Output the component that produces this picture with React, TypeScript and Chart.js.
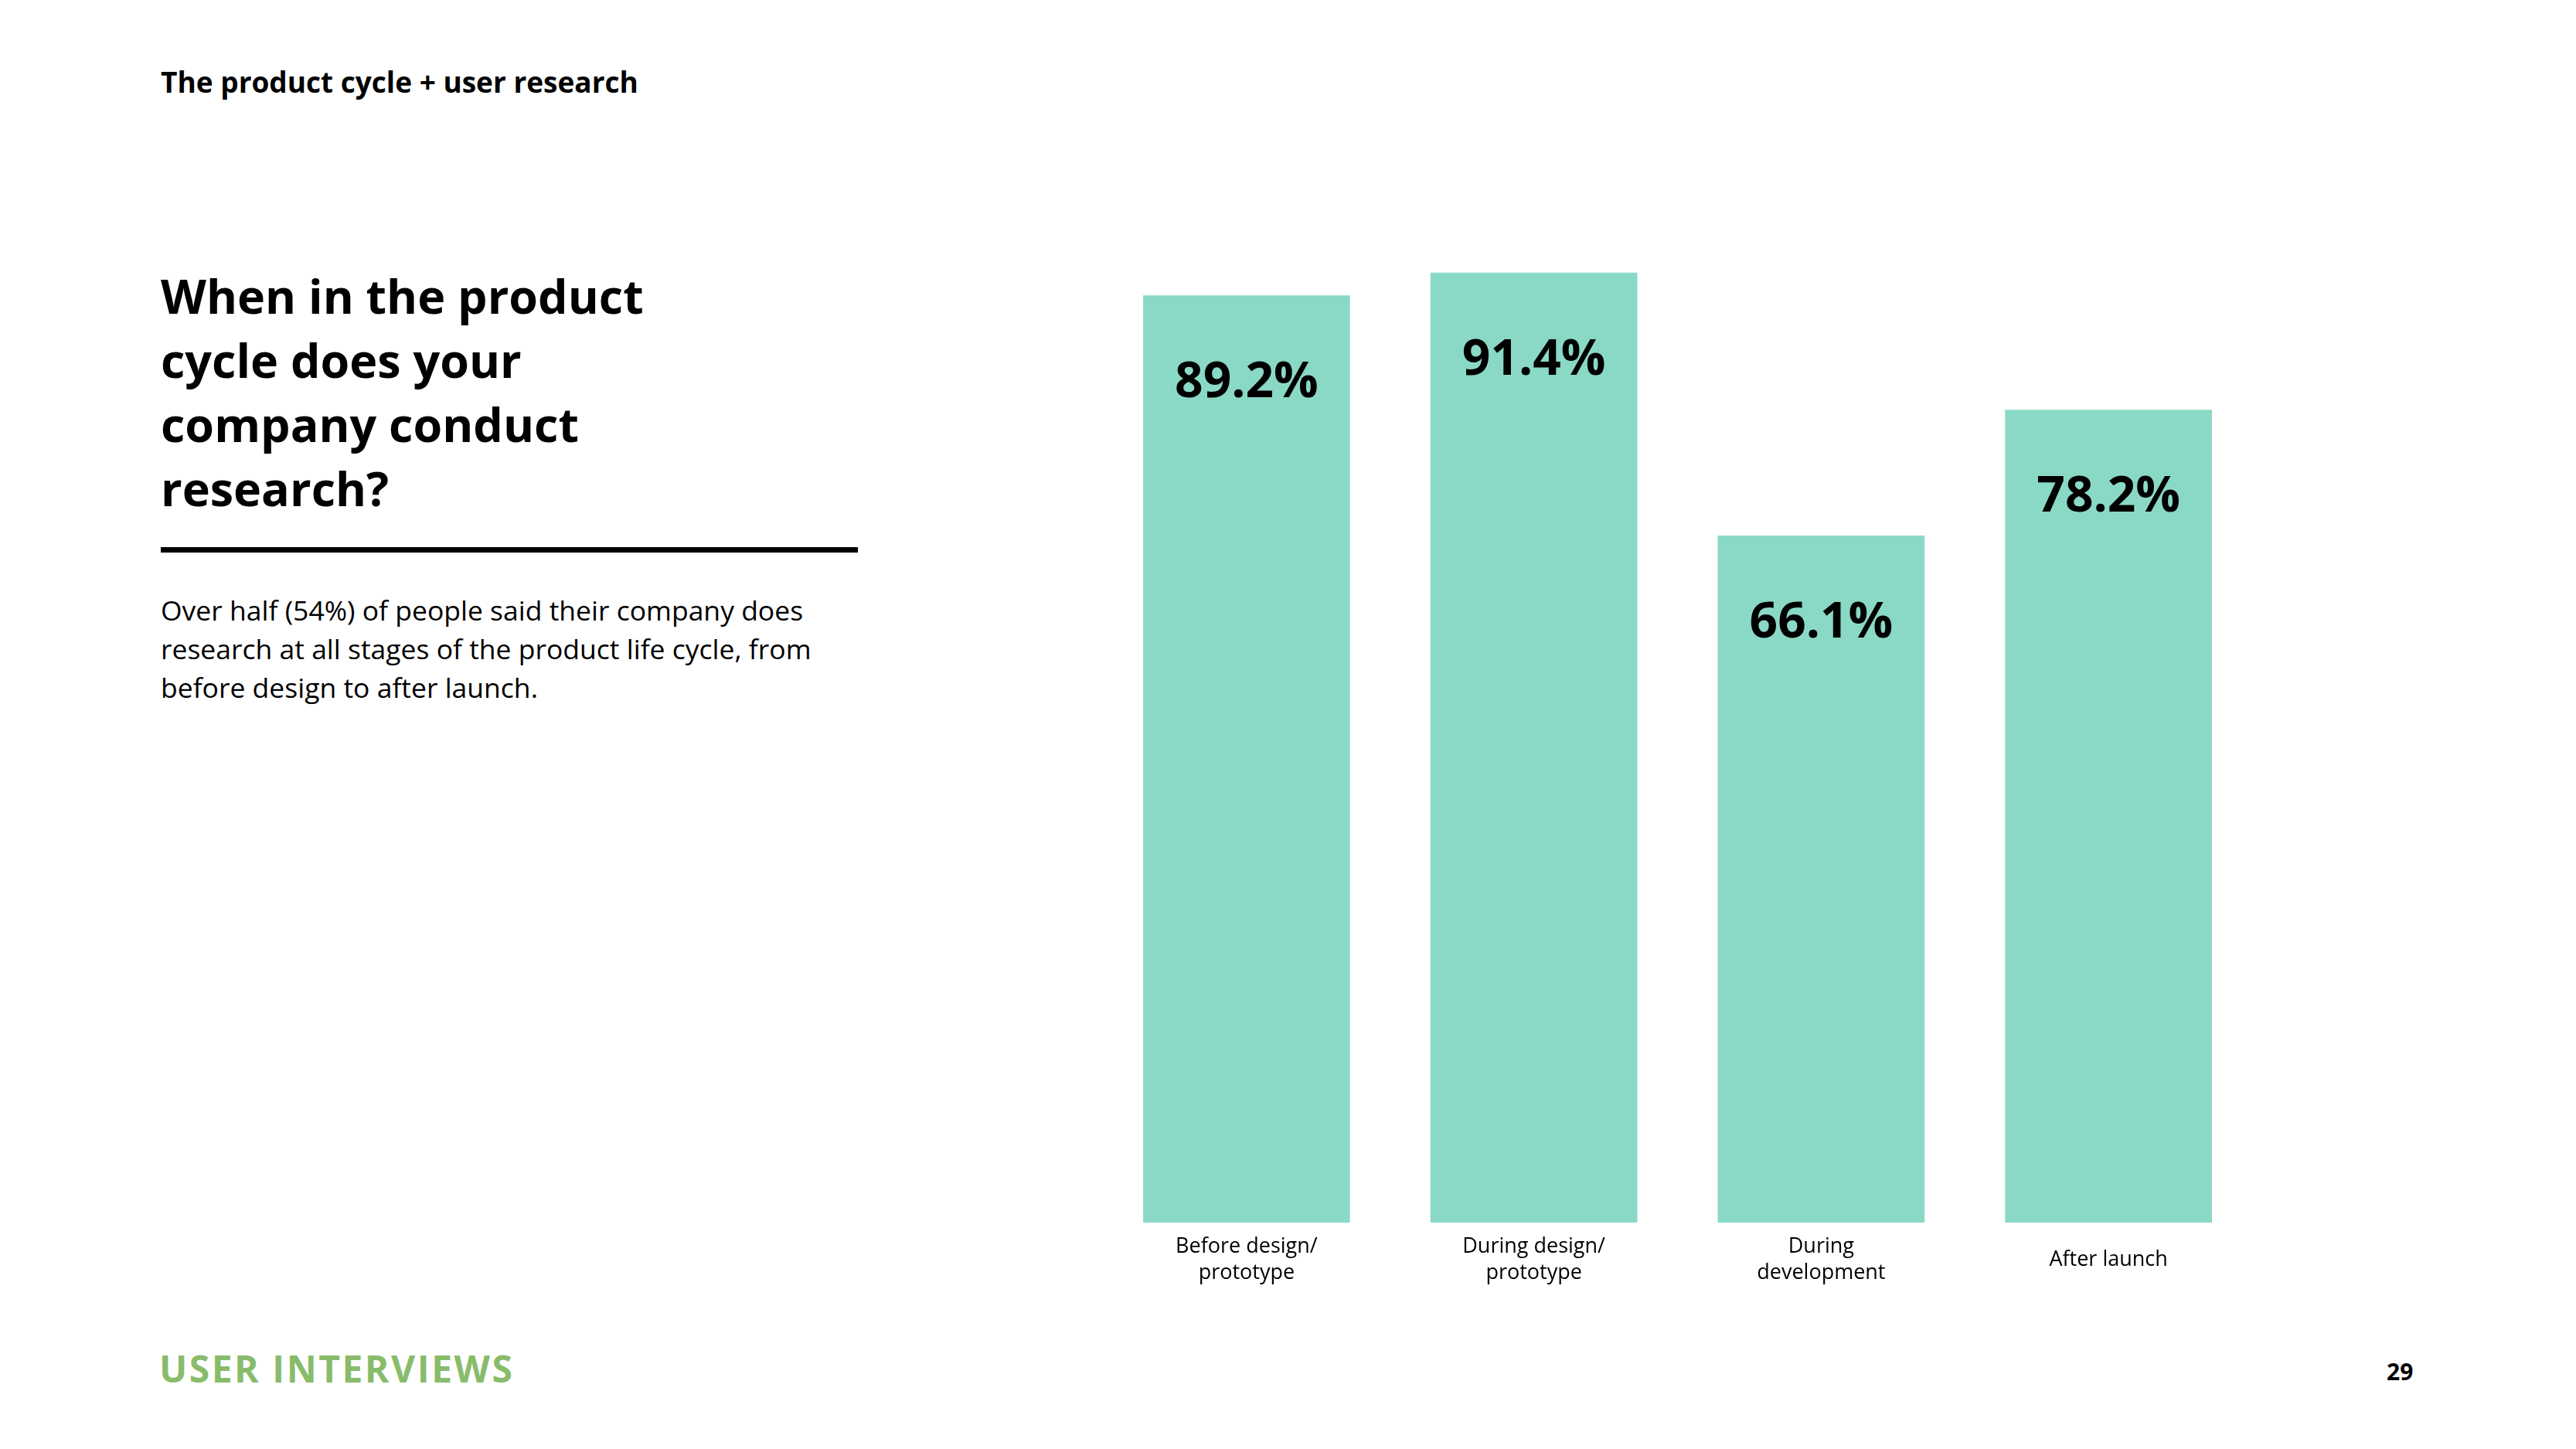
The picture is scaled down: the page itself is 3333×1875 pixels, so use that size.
import React, { useEffect, useRef } from "react";
import { Chart, registerables } from "chart.js";

Chart.register(...registerables);

const categories: string[][] = [
  ["Before design/", "prototype"],
  ["During design/", "prototype"],
  ["During", "development"],
  ["After launch"],
];
const values: number[] = [89.2, 91.4, 66.1, 78.2];
const valueLabels: string[] = ["89.2%", "91.4%", "66.1%", "78.2%"];
const yMin = 0;
const yMax = 100;

const BAR_COLOR = "#8ad9c6";
const FONT = "'Open Sans', 'Noto Sans', sans-serif";

function BarChart() {
  const ref = useRef<HTMLCanvasElement | null>(null);
  useEffect(() => {
    if (!ref.current) return;
    const labelPlugin = {
      id: "customLabels",
      afterDatasetsDraw(chart: any) {
        const ctx = chart.ctx;
        const meta = chart.getDatasetMeta(0);
        ctx.save();
        ctx.fillStyle = "#000";
        ctx.textAlign = "center";
        ctx.textBaseline = "middle";
        ctx.font = `bold 64px ${FONT}`;
        meta.data.forEach((bar: any, i: number) => {
          ctx.fillText(valueLabels[i], bar.x, bar.y + 114);
        });
        const xScale = chart.scales.x;
        const bottom = chart.chartArea.bottom;
        ctx.font = `27px ${FONT}`;
        categories.forEach((lines, i) => {
          const x = xScale.getPixelForValue(i);
          if (lines.length === 1) {
            ctx.fillText(lines[0], x, bottom + 48);
          } else {
            lines.forEach((l, j) => ctx.fillText(l, x, bottom + 31 + j * 34));
          }
        });
        ctx.restore();
      },
    };
    const chart = new Chart(ref.current, {
      type: "bar",
      data: {
        labels: categories.map((c) => c.join(" ")),
        datasets: [
          {
            data: values,
            backgroundColor: BAR_COLOR,
            borderWidth: 0,
            categoryPercentage: 0.72,
            barPercentage: 1,
          },
        ],
      },
      options: {
        animation: false,
        responsive: false,
        maintainAspectRatio: false,
        layout: { padding: { left: 0, right: 0, top: 0, bottom: 118 } },
        plugins: { legend: { display: false }, tooltip: { enabled: false } },
        scales: {
          x: { display: false },
          y: { display: false, min: yMin, max: yMax },
        },
      },
      plugins: [labelPlugin],
    });
    return () => chart.destroy();
  }, []);
  return (
    <canvas
      ref={ref}
      width={1487}
      height={1463}
      style={{ position: "absolute", left: 1427, top: 237, width: 1487, height: 1463 }}
    />
  );
}

export default function App() {
  const abs = (s: React.CSSProperties): React.CSSProperties => ({ position: "absolute", margin: 0, ...s });
  return (
    <div style={{ position: "absolute", left: 0, top: 0, width: 3333, height: 1875, background: "#fff", overflow: "hidden", fontFamily: FONT }}>
      <div style={abs({ left: 208, top: 82, fontSize: 37, fontWeight: 700, lineHeight: "48px", color: "#000", whiteSpace: "nowrap" })}>
        The product cycle + user research
      </div>
      <div style={abs({ left: 208, top: 341, fontSize: 61, fontWeight: 700, lineHeight: "83px", color: "#000", width: 900 })}>
        When in the product<br />cycle does your<br />company conduct<br />research?
      </div>
      <div style={abs({ left: 208, top: 708, width: 902, height: 7, background: "#000" })} />
      <div style={abs({ left: 208, top: 764, fontSize: 35.5, lineHeight: "50px", color: "#000", whiteSpace: "nowrap" })}>
        Over half (54%) of people said their company does<br />research at all stages of the product life cycle, from<br />before design to after launch.
      </div>
      <BarChart />
      <div style={abs({ left: 206, top: 1742, fontSize: 48, fontWeight: 700, lineHeight: "58px", letterSpacing: 2.5, color: "#88bc6a", whiteSpace: "nowrap" })}>
        USER INTERVIEWS
      </div>
      <div style={abs({ left: 3088, top: 1756, fontSize: 30, fontWeight: 700, lineHeight: "38px", color: "#000" })}>
        29
      </div>
    </div>
  );
}
